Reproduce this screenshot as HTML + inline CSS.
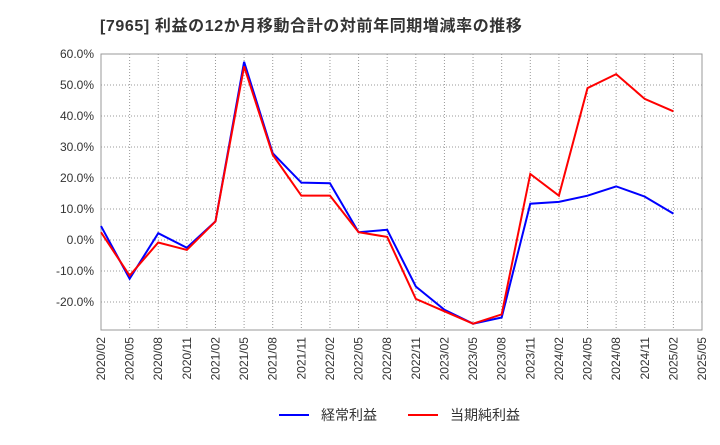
<!DOCTYPE html>
<html><head><meta charset="utf-8">
<style>
body{margin:0;background:#fff;font-family:"Liberation Sans","Noto Sans CJK JP",sans-serif;}
#wrap{position:relative;width:720px;height:440px;}
</style></head>
<body>
<div id="wrap">
<svg id="svg" width="720" height="440" xmlns="http://www.w3.org/2000/svg" font-family="Liberation Sans, Noto Sans CJK JP, sans-serif">
<text x="100" y="31" font-size="16" font-weight="bold" fill="#333" letter-spacing="0.6">[7965]  利益の12か月移動合計の対前年同期増減率の推移</text>
<rect x="101" y="54" width="601" height="276" fill="#fff" stroke="#999"/>
<g id="grid"></g><g id="yt"></g><g id="xt"></g><g id="series"></g>
<g>
<line x1="279" y1="415" x2="309" y2="415" stroke="#0000ff" stroke-width="2"/>
<text x="321" y="420" font-size="14" fill="#333">経常利益</text>
<line x1="408" y1="415" x2="438" y2="415" stroke="#ff0000" stroke-width="2"/>
<text x="450" y="420" font-size="14" fill="#333">当期純利益</text>
</g>
</svg>
</div>
<script>
const xLabels=["2020/02","2020/05","2020/08","2020/11","2021/02","2021/05","2021/08","2021/11","2022/02","2022/05","2022/08","2022/11","2023/02","2023/05","2023/08","2023/11","2024/02","2024/05","2024/08","2024/11","2025/02","2025/05"];
const yTicks=[60,50,40,30,20,10,0,-10,-20];
const keijo=[4.5,-12.5,2.2,-2.5,6,57.5,28,18.5,18.3,2.5,3.3,-15,-22.5,-27,-25,11.7,12.3,14.3,17.3,14,8.5];
const junri=[2.5,-11.5,-0.8,-3.2,6,56,27.5,14.3,14.3,2.5,1,-19,-23,-27,-24,21.3,14.3,49,53.5,45.5,41.5];
const NS="http://www.w3.org/2000/svg";
const X0=101,X1=702,Y0=330,Y1=54;
function xs(i){return X0+i*(X1-X0)/(xLabels.length-1);}
function ys(v){return 240-v*3.1;}
function mk(t,a,p){const e=document.createElementNS(NS,t);for(const k in a)e.setAttribute(k,a[k]);p.appendChild(e);return e;}
const grid=document.getElementById('grid'),yt=document.getElementById('yt'),xt=document.getElementById('xt'),ser=document.getElementById('series');
yTicks.forEach(v=>{
 const l=mk('line',{x1:X0,x2:X1,y1:ys(v),y2:ys(v),stroke:'#999','stroke-dasharray':'1,2'},grid);
 
 
 const t=mk('text',{x:94,y:ys(v)+4,'text-anchor':'end','font-size':'12',fill:'#333'},yt);
 t.textContent=v.toFixed(1)+'%';
 
 
});
xLabels.forEach((s,i)=>{
 const x=xs(i);
 const l=mk('line',{x1:x,x2:x,y1:Y1,y2:Y0,stroke:'#999','stroke-dasharray':'1,2'},grid);
 
 
 const t=mk('text',{x:x+4,y:Y0+7,'text-anchor':'end','font-size':'12',fill:'#333',transform:`rotate(-90 ${x+4} ${Y0+7})`},xt);
 t.textContent=s;
 
 
});
function line(d,c,n){
 const p=mk('polyline',{points:d.map((v,i)=>xs(i)+','+ys(v)).join(' '),fill:'none',stroke:c,'stroke-width':2},ser);
 
 
}
line(keijo,'#0000ff','keijo-line');
line(junri,'#ff0000','junri-line');
</script>
</body></html>
